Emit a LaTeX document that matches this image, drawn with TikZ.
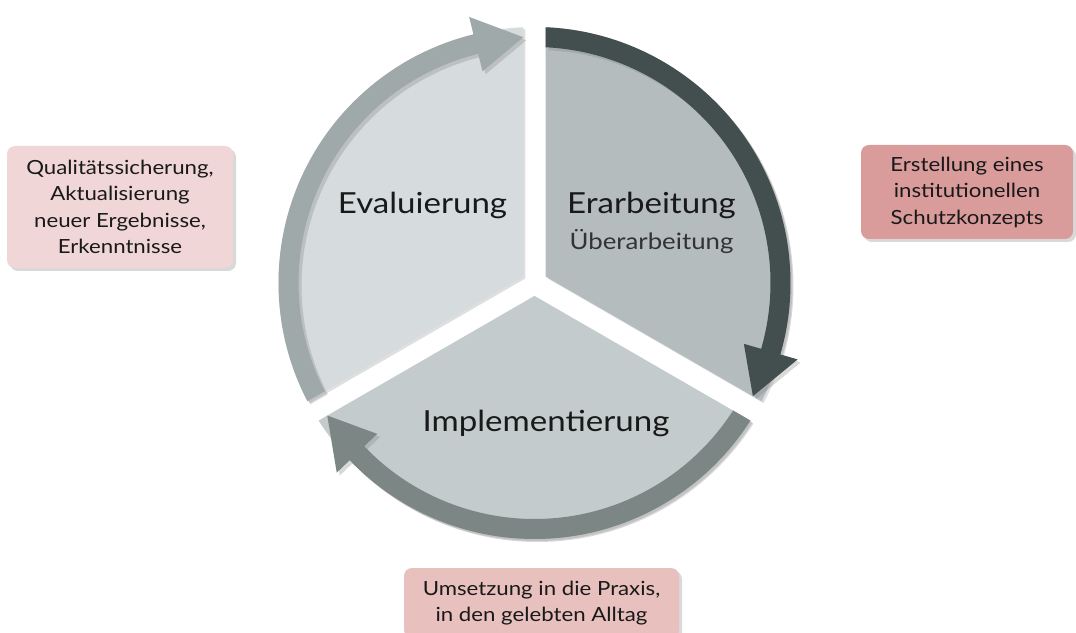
\documentclass[tikz,border=0pt]{standalone}
\usepackage{fontspec}
\setmainfont{Lato}[FakeStretch=1.14]
\usepackage{tikz}
\usetikzlibrary{shadows}
\usepackage{xcolor}

\definecolor{evalfill}{HTML}{D6DCDD}
\definecolor{evalring}{HTML}{A0A9A9}
\definecolor{erarbfill}{HTML}{B4BCBD}
\definecolor{erarbring}{HTML}{434F4F}
\definecolor{implfill}{HTML}{C4CBCC}
\definecolor{implring}{HTML}{7B8685}
\definecolor{boxpale}{HTML}{F0D6D6}
\definecolor{boxred}{HTML}{D99C9B}
\definecolor{boxrose}{HTML}{E8C1BF}

\tikzset{
	sector/.style={drop shadow={shadow xshift=2pt,shadow yshift=-2pt,opacity=0.25}},
	ringarrow/.style={drop shadow={shadow xshift=3pt,shadow yshift=-3pt,opacity=0.3}},
	phase/.style={anchor=base,text=black!90,font=\fontsize{29}{34}\selectfont},
	notebox/.style={rounded corners=8pt,align=center,text=black!90,inner sep=0pt,
		font=\fontsize{19.5}{26.5}\selectfont,
		drop shadow={shadow xshift=3pt,shadow yshift=-3pt,opacity=0.3}}
}

\begin{document}
\begin{tikzpicture}[x=1pt,y=1pt]
	\useasboundingbox (0,0) rectangle (1076,632);
	\begin{scope}[shift={(534.5,349)}]
		%Sektoren
		\fill[sector,evalfill] (150:12.9) -- (92.5:256) arc[start angle=92.5,end angle=207.5,radius=256] -- cycle;
		\fill[sector,erarbfill] (30:12.9) -- (-27.5:256) arc[start angle=-27.5,end angle=87.5,radius=256] -- cycle;
		\fill[sector,implfill] (270:12.9) -- (212.5:256) arc[start angle=212.5,end angle=327.5,radius=256] -- cycle;
		%Pfeile am Rand
		\fill[ringarrow,evalring] (207.5:256) arc[start angle=207.5,end angle=103.8,radius=256]
			-- (103.8:274) -- (92.6:246) -- (103.8:218) -- (103.8:236)
			arc[start angle=103.8,end angle=207.3,radius=236] -- cycle;
		\fill[ringarrow,erarbring] (87.5:256) arc[start angle=87.5,end angle=-16.2,radius=256]
			-- (-16.2:274) -- (-27.4:246) -- (-16.2:218) -- (-16.2:236)
			arc[start angle=-16.2,end angle=87.3,radius=236] -- cycle;
		\fill[ringarrow,implring] (327.5:256) arc[start angle=327.5,end angle=223.8,radius=256]
			-- (223.8:274) -- (212.6:246) -- (223.8:218) -- (223.8:236)
			arc[start angle=223.8,end angle=327.3,radius=236] -- cycle;
	\end{scope}
	%Beschriftung
	\node[phase] (eval) at (422.5,418.7) {Evaluierung};
	\node[phase] (erarb) at (651.5,418.7) {Erarbeitung};
	\node[phase,text=black!80,font=\fontsize{22.6}{27}\selectfont] (ueber) at (651.5,382) {Überarbeitung};
	\node[phase] (impl) at (546,200.3) {Implementierung};
	%Kästen
	\node[notebox,fill=boxpale,minimum width=226pt,minimum height=122pt] (qual) at (120,425)
		{Qualitätssicherung,\\Aktualisierung\\neuer Ergebnisse,\\Erkenntnisse};
	\node[notebox,fill=boxred,minimum width=212pt,minimum height=94pt] (schutz) at (967,440)
		{Erstellung eines\\institutionellen\\Schutzkonzepts};
	\node[notebox,fill=boxrose,minimum width=275pt,minimum height=70pt] (praxis) at (541.5,29)
		{Umsetzung in die Praxis,\\in den gelebten Alltag};
\end{tikzpicture}
\end{document}
